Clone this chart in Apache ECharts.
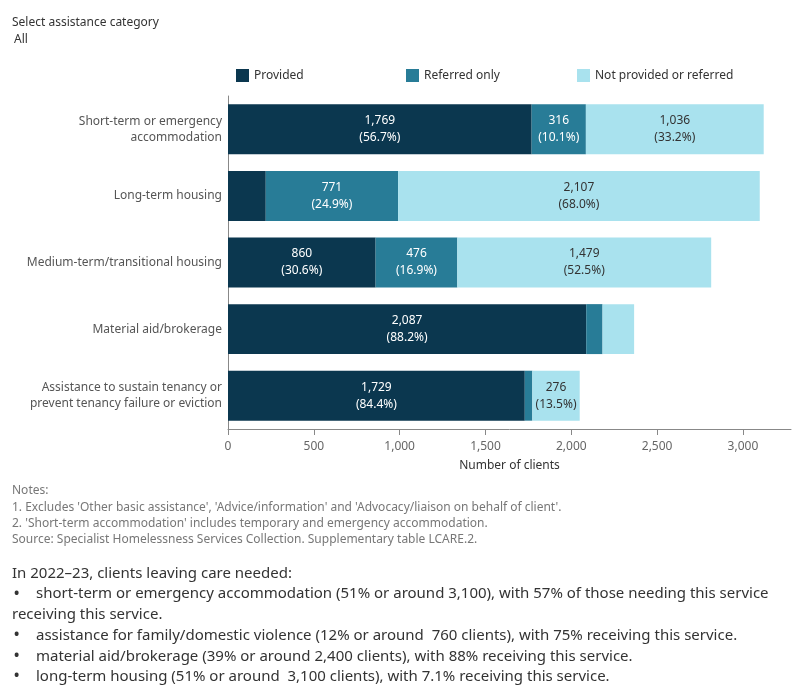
<!DOCTYPE html>
<html>
<head>
<meta charset="utf-8">
<script src="https://cdn.jsdelivr.net/npm/echarts@6/dist/echarts.min.js"></script>
<style>
  html, body { margin: 0; padding: 0; background: #fff; }
  #chart { width: 800px; height: 700px; }
</style>
</head>
<body>
<div id="chart"></div>
<script>
// categories (top to bottom)
const categories = [
  'Short-term or emergency\naccommodation',
  'Long-term housing',
  'Medium-term/transitional housing',
  'Material aid/brokerage',
  'Assistance to sustain tenancy or\nprevent tenancy failure or eviction'
]
// number of clients
const provided = [1769, 220, 860, 2087, 1729]
const referredOnly = [316, 771, 476, 95, 44]
const notProvided = [1036, 2107, 1479, 184, 276]
const xTicks = [0, 500, 1000, 1500, 2000, 2500, 3000]

const totals = categories.map((c, i) => provided[i] + referredOnly[i] + notProvided[i])

const FONT = 'Noto Sans'
const colors = ['#0b374f', '#287c97', '#a9e2ee']

function labelFmt(p) {
  if (p.value < 250) return ''
  const pct = (p.value / totals[p.dataIndex] * 100).toFixed(1)
  return p.value.toLocaleString('en-US') + '\n(' + pct + '%)'
}

function makeSeries(name, data, idx, labelColor) {
  return {
    name: name,
    type: 'bar',
    stack: 'total',
    data: data,
    barCategoryGap: '25%',
    itemStyle: { color: colors[idx] },
    label: {
      show: true,
      position: 'inside',
      color: labelColor,
      fontFamily: FONT,
      fontSize: 12,
      lineHeight: 17,
      formatter: labelFmt
    },
    emphasis: { disabled: true }
  }
}

const legendBase = {
  top: 64,
  itemWidth: 13,
  itemHeight: 13,
  icon: 'rect',
  textStyle: { fontFamily: FONT, fontSize: 12, color: '#333' }
}

// text blocks outside the plot
const noteLines = [
  'Notes:',
  "1. Excludes 'Other basic assistance', 'Advice/information' and 'Advocacy/liaison on behalf of client'.",
  "2. 'Short-term accommodation' includes temporary and emergency accommodation.",
  'Source: Specialist Homelessness Services Collection. Supplementary table LCARE.2.'
]
const summaryLines = [
  { t: 'In 2022\u201323, clients leaving care needed:', bullet: false },
  { t: 'short-term or emergency accommodation (51% or around 3,100), with 57% of those needing this service', bullet: true },
  { t: 'receiving this service.', bullet: false },
  { t: 'assistance for family/domestic violence (12% or around  760 clients), with 75% receiving this service.', bullet: true },
  { t: 'material aid/brokerage (39% or around 2,400 clients), with 88% receiving this service.', bullet: true },
  { t: 'long-term housing (51% or around  3,100 clients), with 7.1% receiving this service.', bullet: true }
]

const graphics = [
  { type: 'text', left: 12, top: 17, style: { text: 'Select assistance category', font: '12px ' + FONT, fill: '#333' } },
  { type: 'text', left: 14, top: 34, style: { text: 'All', font: '12px ' + FONT, fill: '#333' } }
]
noteLines.forEach((t, i) => {
  graphics.push({ type: 'text', left: 12, top: 485 + i * 16.3, style: { text: t, font: '12px ' + FONT, fill: '#777' } })
})
summaryLines.forEach((l, i) => {
  const y = 566 + i * 20.7
  if (l.bullet) {
    graphics.push({ type: 'text', left: 14, top: y, style: { text: '\u2022', font: 'bold 14px ' + FONT, fill: '#333' } })
  }
  graphics.push({ type: 'text', left: l.bullet ? 36 : 12, top: y, style: { text: l.t, font: '15px ' + FONT, fill: '#333' } })
})

const myChart = echarts.init(document.getElementById('chart'))
const option = {
  animation: false,
  textStyle: { fontFamily: FONT },
  legend: [
    Object.assign({ left: 231, data: ['Provided'] }, legendBase),
    Object.assign({ left: 401, data: ['Referred only'] }, legendBase),
    Object.assign({ left: 572, data: ['Not provided or referred'] }, legendBase)
  ],
  grid: { left: 228, right: 9, top: 96, height: 333, containLabel: false },
  xAxis: {
    type: 'value',
    min: 0,
    max: 3280,
    name: 'Number of clients',
    nameLocation: 'middle',
    nameGap: 31,
    nameTextStyle: { fontFamily: FONT, fontSize: 12, color: '#333' },
    axisLine: { show: true, lineStyle: { color: '#888' } },
    axisTick: { show: true, length: 6, customValues: xTicks, lineStyle: { color: '#888' } },
    axisLabel: {
      customValues: xTicks,
      fontFamily: FONT,
      fontSize: 12,
      color: '#666',
      margin: 12,
      formatter: v => v.toLocaleString('en-US')
    },
    splitLine: { show: false }
  },
  yAxis: {
    type: 'category',
    inverse: true,
    data: categories,
    axisLine: { show: true, lineStyle: { color: '#888' } },
    axisTick: { show: false },
    axisLabel: { fontFamily: FONT, fontSize: 12, lineHeight: 16, color: '#555', margin: 6, align: 'right' }
  },
  series: [
    makeSeries('Provided', provided, 0, '#fff'),
    makeSeries('Referred only', referredOnly, 1, '#fff'),
    makeSeries('Not provided or referred', notProvided, 2, '#333')
  ],
  graphic: graphics
}
myChart.setOption(option)
window.addEventListener('resize', () => {
  myChart.resize()
})
</script>
</body>
</html>
